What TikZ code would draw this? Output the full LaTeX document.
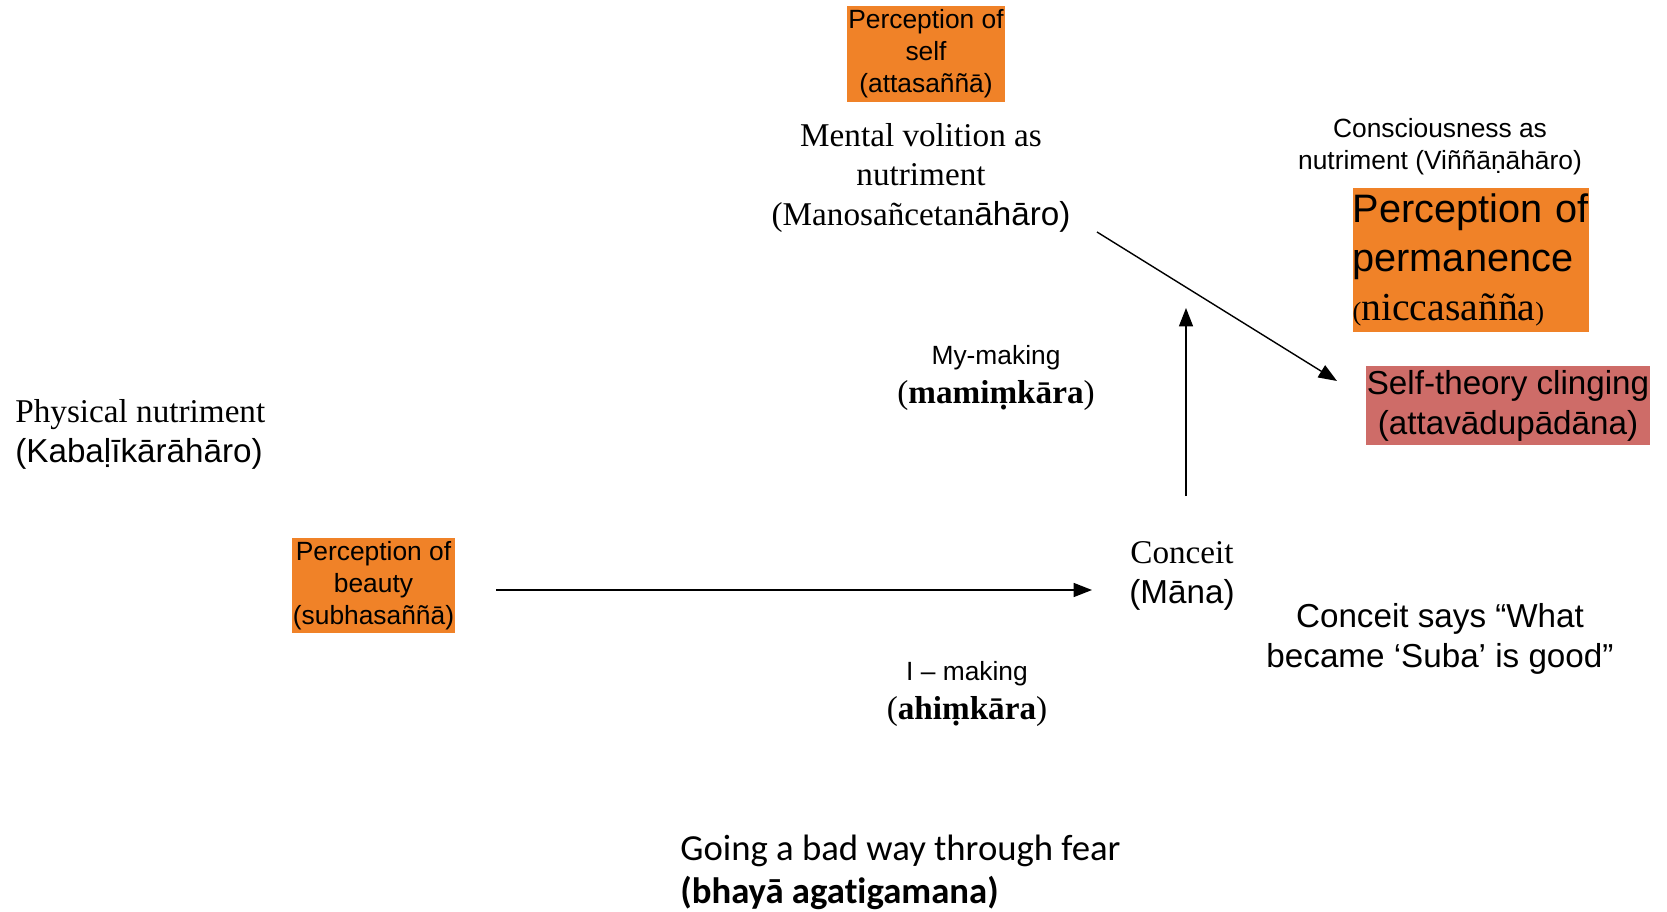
\documentclass[tikz,border=0pt]{standalone}
\usepackage{fontspec}
\setmainfont{Liberation Serif}
\setsansfont{Liberation Sans}
\newfontfamily\calibri[Ligatures=NoCommon]{Carlito}
\usetikzlibrary{arrows.meta}
\definecolor{percorange}{RGB}{240,130,40}
\definecolor{clingred}{RGB}{206,108,104}
\newcommand{\smallsz}{\fontsize{15}{18.2}\selectfont}
\newcommand{\midsz}{\fontsize{18.9}{22.7}\selectfont}
\newcommand{\bigsz}{\fontsize{22.6}{27.9}\selectfont}
\tikzset{
    arr/.style={-{Triangle[length=10.5pt,width=8pt]}, line width=0.8pt},
    percbox/.style={fill=percorange, inner sep=0pt, align=center, font=\sffamily\smallsz},
}
\begin{document}
\begin{tikzpicture}[x=0.02cm, y=-0.02cm]
    \useasboundingbox (0,0) rectangle (1667,912);

    \node[percbox, minimum width=3.16cm, minimum height=1.92cm] (self) at (926,54) {Perception of\\self\\(attasaññā)};
    \node[align=center, inner sep=0pt, font=\midsz] (volition) at (921,178) {Mental volition as\\nutriment\\(Manosañcetan\textsf{āhāro)}};
    \node[align=center, inner sep=0pt, font=\sffamily\smallsz] (consc) at (1440,147) {Consciousness as\\nutriment (Viññāṇāhāro)};
    \node[fill=percorange, inner sep=0pt, align=left, text width=4.74cm, minimum height=2.88cm, font=\sffamily\bigsz] (perm) at (1471,260) {Perception of\\permanence\\{\rmfamily{\smallsz(}niccasañña{\smallsz)}}};
    \node[fill=clingred, inner sep=0pt, align=center, minimum width=5.68cm, minimum height=1.58cm, font=\sffamily\midsz] (cling) at (1508,405.5) {Self-theory clinging\\(attavādupādāna)};

    \node[anchor=west, align=left, inner sep=0pt, font=\midsz] (physical) at (15,434) {Physical nutriment\\\textsf{(Kabaḷīkārāhāro)}};
    \node[percbox, minimum width=3.26cm, minimum height=1.9cm] (beauty) at (373.5,585.5) {Perception of\\beauty\\(subhasaññā)};

    \node[align=center, inner sep=0pt, font=\midsz] (mymaking) at (996,378) {{\sffamily\smallsz My-making}\\(\textbf{mamiṃkāra})};
    \node[align=center, inner sep=0pt, font=\midsz] (mana) at (1182,576) {Conceit\\\textsf{(Māna)}};
    \node[align=center, inner sep=0pt, font=\sffamily\midsz] (says) at (1440,639) {Conceit says “What\\became ‘Suba’ is good”};
    \node[align=center, inner sep=0pt, font=\midsz] (imaking) at (967,694) {{\sffamily\smallsz I – making}\\(\textbf{ahiṃkāra})};
    \node[anchor=west, align=left, inner sep=0pt, font=\calibri\fontsize{20.9}{24.5}\selectfont] (fear) at (680,872) {Going a bad way through fear\\\textbf{(bhayā agatigamana)}};

    \coordinate (beautyout) at (496,590);
    \coordinate (manain) at (1092,590);
    \coordinate (manaout) at (1186,496);
    \coordinate (uptip) at (1186,308);
    \coordinate (volout) at (1097,232);
    \coordinate (clingin) at (1337,381);

    \draw[arr] (beautyout) -- (manain);
    \draw[arr] (manaout) -- (uptip);
    \draw[arr] (volout) -- (clingin);

\end{tikzpicture}
\end{document}
